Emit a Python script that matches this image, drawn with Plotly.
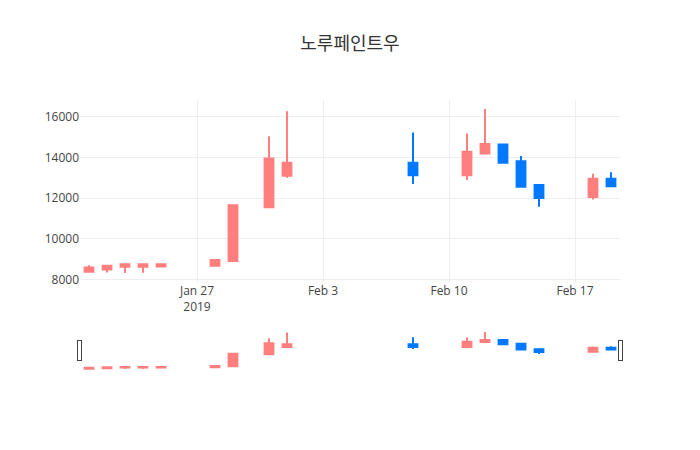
import plotly.graph_objects as go

dates = ["2019-01-21", "2019-01-22", "2019-01-23", "2019-01-24", "2019-01-25",
         "2019-01-28", "2019-01-29", "2019-01-31", "2019-02-01", "2019-02-08",
         "2019-02-11", "2019-02-12", "2019-02-13", "2019-02-14", "2019-02-15",
         "2019-02-18", "2019-02-19"]
open_ = [8380, 8490, 8620, 8620, 8640, 8670, 8900, 11550, 13100, 13740,
         13130, 14200, 14640, 13820, 12640, 12060, 12950]
high = [8700, 8670, 8740, 8740, 8750, 8960, 11650, 15050, 16280, 15230,
        15180, 16380, 14640, 14070, 12640, 13200, 13270]
low = [8380, 8340, 8320, 8330, 8600, 8670, 8900, 11550, 13000, 12690,
       12890, 14200, 13690, 12560, 11570, 11930, 12580]
close = [8590, 8670, 8740, 8740, 8750, 8960, 11650, 13950, 13740, 13130,
         14280, 14660, 13740, 12560, 12010, 12950, 12580]

fig = go.Figure(go.Candlestick(
    x=dates, open=open_, high=high, low=low, close=close,
    increasing=dict(line=dict(color="#ff7f7f"), fillcolor="#ff7f7f"),
    decreasing=dict(line=dict(color="#0078ff"), fillcolor="#0078ff"),
))
fig.update_layout(
    template="none",
    width=700, height=450,
    title=dict(text="노루페인트우", x=0.5, font=dict(size=18, color="#333")),
    font=dict(family="Open Sans, Noto Sans CJK KR, sans-serif"),
    showlegend=False,
    yaxis=dict(exponentformat="none", tickformat="d"),
)
fig.write_html("out.html")
